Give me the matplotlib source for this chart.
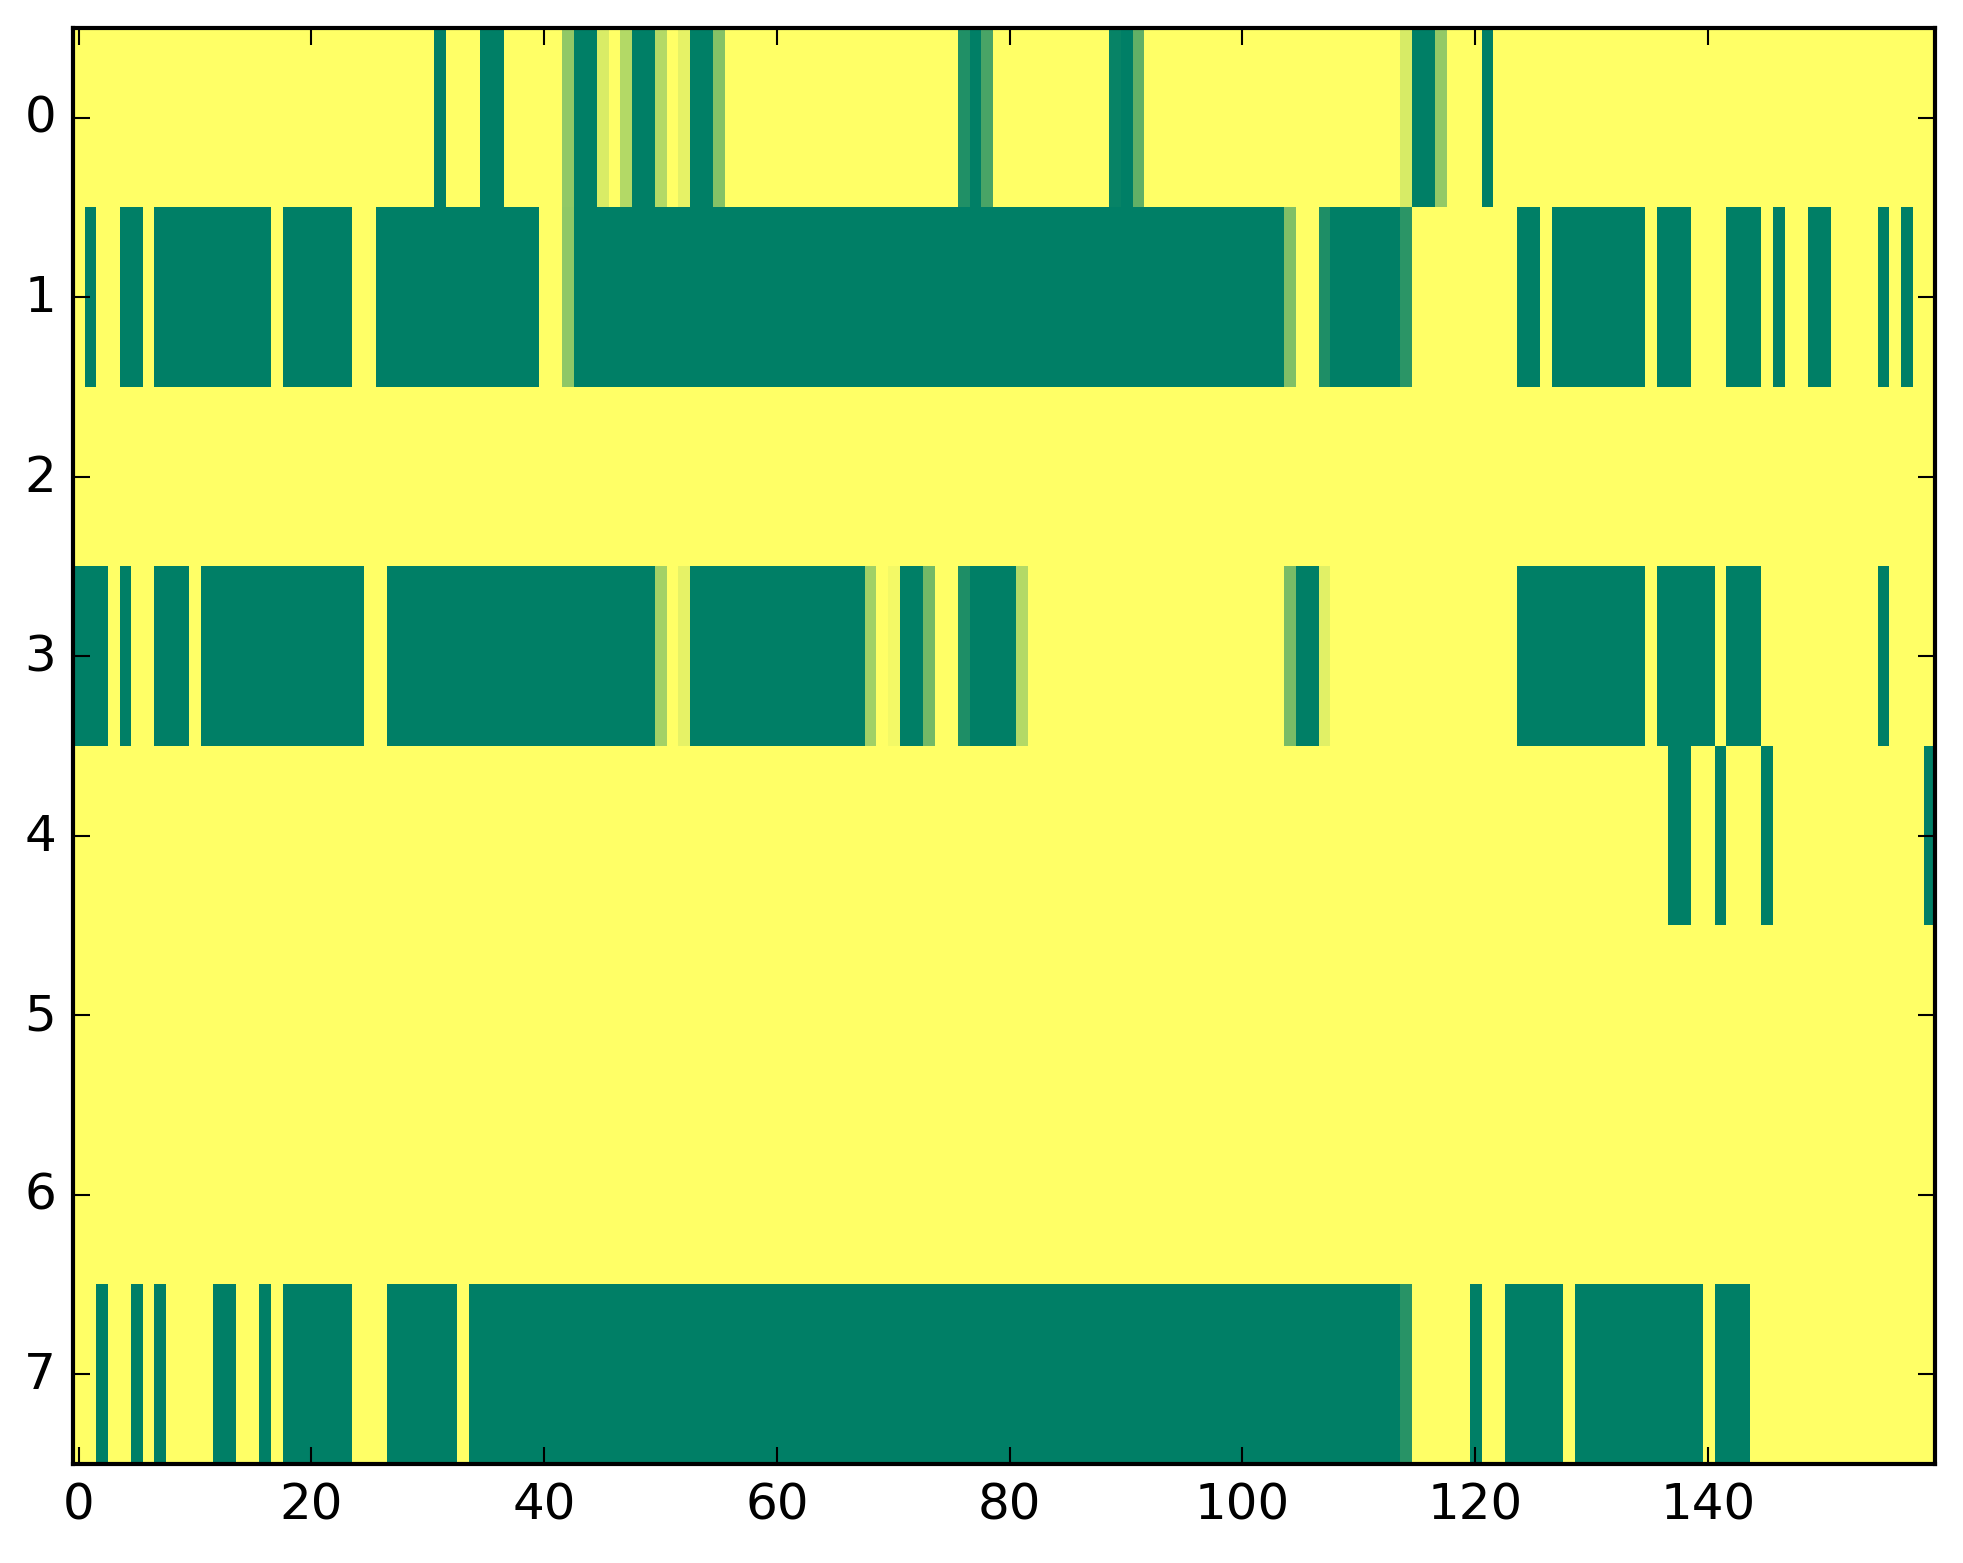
import matplotlib
matplotlib.use('Agg')

import matplotlib.pyplot as plt
import numpy as np

n_cols = 160
n_rows = 8

# 초록색(값 0) 구간: 각 행별 (시작, 끝) 열 번호, 끝 포함
row0_green = [(31, 31), (35, 36), (43, 44), (48, 49), (53, 54), (77, 77),
              (90, 90), (115, 116), (121, 121)]
row1_green = [(1, 1), (4, 5), (7, 16), (18, 23), (26, 39), (43, 103),
              (108, 113), (124, 125), (127, 134), (136, 138), (142, 144),
              (146, 146), (149, 150), (155, 155), (157, 157)]
row2_green = []
row3_green = [(0, 2), (4, 4), (7, 9), (11, 24), (27, 49), (53, 67), (71, 72),
              (77, 80), (105, 106), (124, 134), (136, 140), (142, 144),
              (155, 155)]
row4_green = [(137, 138), (141, 141), (145, 145), (159, 159)]
row5_green = []
row6_green = []
row7_green = [(2, 2), (5, 5), (7, 7), (12, 13), (16, 16), (18, 23), (27, 32),
              (34, 113), (120, 120), (123, 127), (129, 139), (141, 143)]

# 중간값 셀 {열: 값}
row0_partial = {42: 0.57, 45: 0.85, 47: 0.7, 50: 0.7, 52: 0.9, 55: 0.52,
                76: 0.13, 78: 0.29, 89: 0.03, 91: 0.38, 114: 0.84, 117: 0.58}
row1_partial = {42: 0.56, 104: 0.5, 107: 0.12, 114: 0.17}
row2_partial = {}
row3_partial = {50: 0.64, 52: 0.9, 68: 0.63, 70: 0.95, 73: 0.45, 76: 0.12,
                81: 0.7, 104: 0.48, 107: 0.88}
row4_partial = {}
row5_partial = {}
row6_partial = {}
row7_partial = {114: 0.16}

greens = [row0_green, row1_green, row2_green, row3_green,
          row4_green, row5_green, row6_green, row7_green]
partials = [row0_partial, row1_partial, row2_partial, row3_partial,
            row4_partial, row5_partial, row6_partial, row7_partial]

# 행렬 만들기 (기본값 1 = 노란색)
data = np.ones((n_rows, n_cols))
for r in range(n_rows):
    for a, b in greens[r]:
        data[r, a:b + 1] = 0.0
    for c, v in partials[r].items():
        data[r, c] = v

plt.style.use('classic')

fig = plt.figure(figsize=(1963 / 300, 1564 / 300), facecolor='white')
ax = fig.add_axes([0.0371, 0.0633, 0.9486, 0.918])
ax.imshow(data, cmap='summer', vmin=0, vmax=1, aspect='auto',
          interpolation='nearest')
ax.set_xlim(-0.5, n_cols - 0.5)
ax.set_ylim(n_rows - 0.5, -0.5)
ax.set_xticks([0, 20, 40, 60, 80, 100, 120, 140])
ax.set_yticks(range(n_rows))
ax.tick_params(labelsize=12)

fig.savefig('out.png', dpi=300, facecolor='white')
plt.close()
